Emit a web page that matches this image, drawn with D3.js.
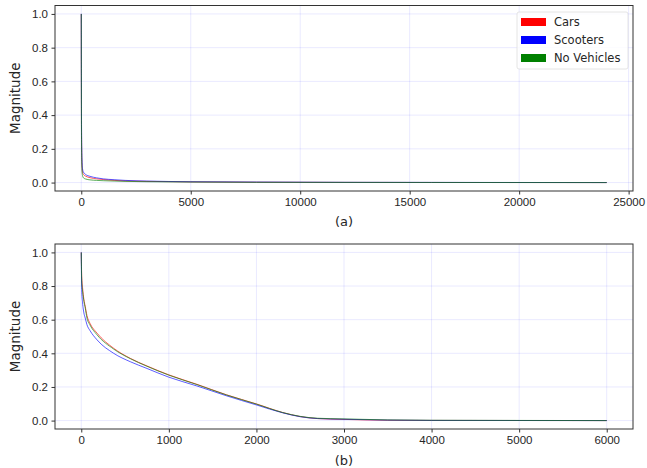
<!DOCTYPE html>
<html>
<head>
<meta charset="utf-8">
<script src="https://cdn.jsdelivr.net/npm/d3@7"></script>
<style>
  body { margin: 0; background: #fff; }
  svg { display: block; font-family: "DejaVu Sans", sans-serif; }
  .tick text { fill: #262626; font-size: 11.5px; }
  .tick line { stroke: #333; }
  .grid line { stroke: rgba(0,0,255,0.11); stroke-width: 0.8; }
</style>
</head>
<body>
<div id="chart"></div>
<script>
(function () {
  'use strict';

  // ── data ──────────────────────────────────────────────
  var seriesNames = ['Cars', 'Scooters', 'No Vehicles'];
  var seriesColors = ['#ff0000', '#0000ff', '#008000'];

  // panel (a): full range
  var xA = [0, 10, 30, 60, 100, 200, 400, 700, 1000, 1500, 2000, 3000, 5000, 8000, 12000, 16000, 24000];
  var carsA = [1.0, 0.33, 0.11, 0.06, 0.048, 0.038, 0.029, 0.022, 0.018, 0.013, 0.010, 0.007, 0.004, 0.002, 0.001, 0.0005, 0];
  var scootersA = [1.0, 0.40, 0.15, 0.08, 0.062, 0.048, 0.037, 0.028, 0.022, 0.017, 0.013, 0.009, 0.005, 0.003, 0.0015, 0.001, 0];
  var noVehA = [1.0, 0.28, 0.08, 0.04, 0.028, 0.021, 0.016, 0.013, 0.011, 0.009, 0.007, 0.005, 0.003, 0.0015, 0.001, 0.0005, 0];

  // panel (b): first 6000
  var xB = [0, 5, 15, 30, 45, 65, 100, 180, 370, 560, 750, 1000, 1320, 1660, 2000, 2300, 2500, 2700, 3000, 3500, 4000, 5000, 6000];
  var carsB = [1.0, 0.86, 0.79, 0.72, 0.68, 0.625, 0.578, 0.52, 0.43, 0.37, 0.325, 0.272, 0.216, 0.153, 0.099, 0.048, 0.024, 0.012, 0.007, 0.002, 0.001, 0.0005, 0];
  var scootersB = [1.0, 0.78, 0.70, 0.64, 0.61, 0.57, 0.535, 0.48, 0.40, 0.35, 0.31, 0.258, 0.206, 0.147, 0.093, 0.046, 0.023, 0.012, 0.008, 0.003, 0.001, 0.0005, 0];
  var noVehB = [1.0, 0.83, 0.77, 0.71, 0.67, 0.61, 0.568, 0.51, 0.425, 0.368, 0.323, 0.27, 0.214, 0.152, 0.098, 0.048, 0.025, 0.014, 0.010, 0.004, 0.002, 0.001, 0];

  var yTicks = [0, 0.2, 0.4, 0.6, 0.8, 1.0];
  var xTicksA = [0, 5000, 10000, 15000, 20000, 25000];
  var xTicksB = [0, 1000, 2000, 3000, 4000, 5000, 6000];

  var W = 647, H = 468;
  var svg = d3.select('#chart').append('svg').attr('width', W).attr('height', H);

  function panel(opt) {
    var x = d3.scaleLinear().domain(opt.xDomain).range([55, 633]);
    var y = d3.scaleLinear().domain([-0.05, 1.05]).range([opt.bottom, opt.top]);
    var g = svg.append('g');

    // grid
    var grid = g.append('g').attr('class', 'grid');
    grid.selectAll('.gx').data(opt.xTicks).enter().append('line')
      .attr('x1', function (d) { return x(d); }).attr('x2', function (d) { return x(d); })
      .attr('y1', opt.top).attr('y2', opt.bottom);
    grid.selectAll('.gy').data(yTicks).enter().append('line')
      .attr('x1', 55).attr('x2', 633)
      .attr('y1', function (d) { return y(d); }).attr('y2', function (d) { return y(d); });

    // lines
    var line = d3.line()
      .curve(d3.curveMonotoneX)
      .x(function (d) { return x(d[0]); })
      .y(function (d) { return y(d[1]); });
    opt.series.forEach(function (vals, i) {
      g.append('path')
        .datum(opt.xs.map(function (v, j) { return [v, vals[j]]; }))
        .attr('fill', 'none')
        .attr('stroke', seriesColors[i])
        .attr('stroke-width', 0.8)
        .attr('stroke-opacity', 0.8)
        .attr('d', line);
    });

    // axes
    g.append('g').attr('transform', 'translate(0,' + opt.bottom + ')')
      .call(d3.axisBottom(x).tickValues(opt.xTicks).tickFormat(d3.format('d')).tickSize(3.5).tickPadding(3.5))
      .call(function (a) { a.select('.domain').remove(); });
    g.append('g').attr('transform', 'translate(55,0)')
      .call(d3.axisLeft(y).tickValues(yTicks).tickFormat(d3.format('.1f')).tickSize(3.5).tickPadding(3.5))
      .call(function (a) { a.select('.domain').remove(); });

    // frame
    g.append('rect')
      .attr('x', 55).attr('y', opt.top)
      .attr('width', 578).attr('height', opt.bottom - opt.top)
      .attr('fill', 'none').attr('stroke', '#333').attr('stroke-width', 1);

    g.append('text')
      .attr('transform', 'translate(15,' + ((opt.top + opt.bottom) / 2) + ') rotate(-90)')
      .attr('text-anchor', 'middle')
      .attr('dy', '0.35em')
      .attr('font-size', '13.5px')
      .attr('fill', '#262626')
      .text('Magnitude');

    g.append('text')
      .attr('x', 344).attr('y', opt.captionY)
      .attr('text-anchor', 'middle')
      .attr('font-size', '13px')
      .attr('fill', '#262626')
      .text(opt.caption);
    return g;
  }

  var gA = panel({
    xDomain: [-1200, 25200], top: 5.5, bottom: 191, xTicks: xTicksA,
    xs: xA, series: [carsA, scootersA, noVehA], caption: '(a)', captionY: 226
  });
  panel({
    xDomain: [-300, 6300], top: 244, bottom: 429, xTicks: xTicksB,
    xs: xB, series: [carsB, scootersB, noVehB], caption: '(b)', captionY: 465
  });

  // legend
  var lg = gA.append('g').attr('transform', 'translate(517,12)');
  lg.append('rect').attr('width', 111).attr('height', 57).attr('rx', 2)
    .attr('fill', 'rgba(255,255,255,0.8)').attr('stroke', '#ddd').attr('stroke-width', 0.8);
  seriesNames.forEach(function (name, i) {
    var row = lg.append('g').attr('transform', 'translate(0,' + (10 + i * 18) + ')');
    row.append('rect').attr('x', 4).attr('y', -4).attr('width', 25).attr('height', 8)
      .attr('fill', seriesColors[i]);
    row.append('text').attr('x', 37).attr('y', 4)
      .attr('font-size', '11.5px').attr('fill', '#262626').text(name);
  });
})();
</script>
</body>
</html>
